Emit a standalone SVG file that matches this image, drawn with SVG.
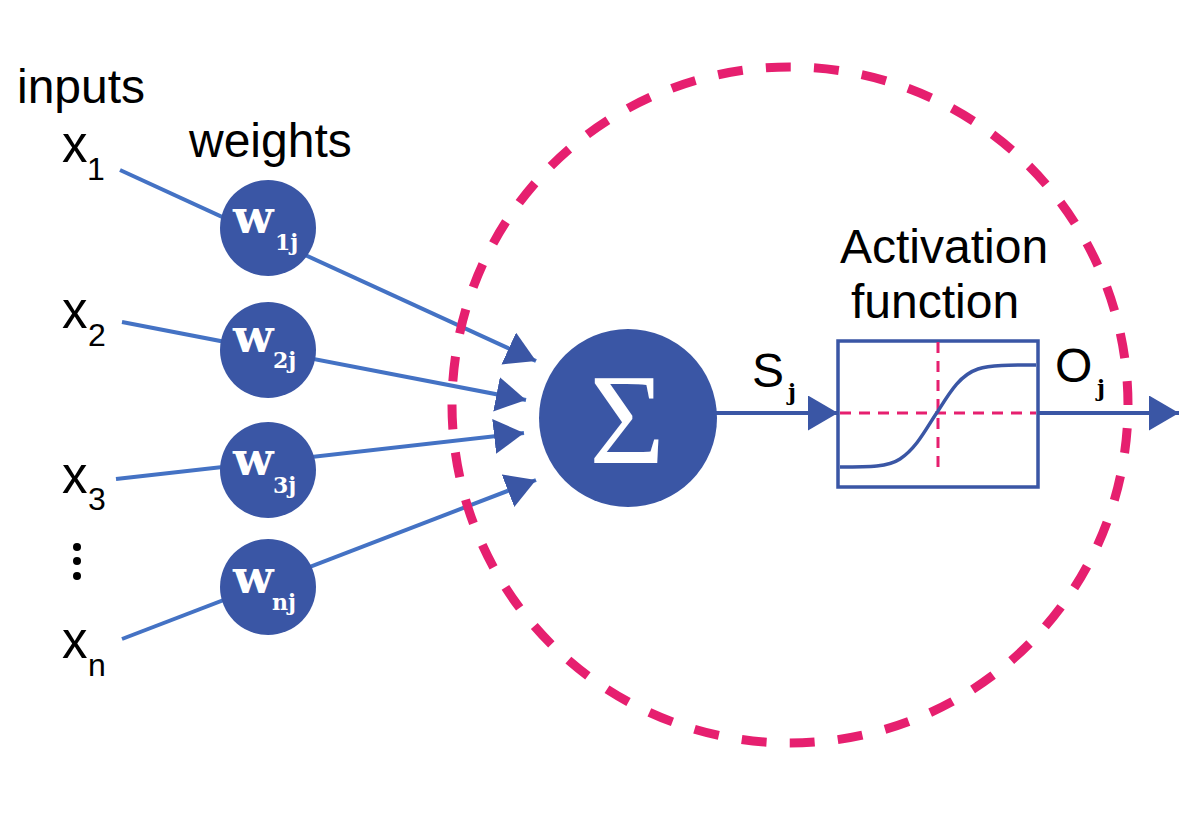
<svg xmlns="http://www.w3.org/2000/svg" width="1182" height="818" viewBox="0 0 1182 818">
<style>
.lbl{font-family:"Liberation Sans",Arial,sans-serif;fill:#000}
.big{font-size:48px}
.xx{font-size:51px}
.sub{font-size:32px}
.wt{font-family:"DejaVu Serif",serif;font-weight:bold;font-size:47px;fill:#fff}
.ws{font-family:"DejaVu Serif",serif;font-weight:bold;font-size:22px;fill:#fff}
.js{font-family:"DejaVu Serif",serif;font-weight:bold;font-size:22px;fill:#000}
.node{fill:#3A56A5}
.conn{stroke:#4472C4;stroke-width:4;fill:none;marker-end:url(#ah)}
.conn2{stroke:#3A56A5;stroke-width:4;fill:none;marker-end:url(#ah)}
.pink{stroke:#E61F6F;fill:none}
</style>
<defs>
<marker id="ah" markerUnits="userSpaceOnUse" markerWidth="32" markerHeight="36" refX="30" refY="17.5" orient="auto" viewBox="0 0 32 36">
<path d="M0,0 L30,17.5 L0,35 Z" fill="#3A56A5"/>
</marker>
</defs>
<rect width="1182" height="818" fill="#fff"/>

<g id="connectors">
<line class="conn" x1="120" y1="170" x2="536" y2="361"/>
<line class="conn" x1="122" y1="322" x2="526" y2="400"/>
<line class="conn" x1="116" y1="479" x2="524" y2="433"/>
<line class="conn" x1="122" y1="639" x2="536" y2="480"/>
<line class="conn2" x1="716" y1="413" x2="838" y2="413"/>
<line class="conn2" x1="1038" y1="413" x2="1179" y2="413"/>
</g>

<g id="labels">
<text class="lbl big" x="17" y="103">inputs</text>
<text class="lbl big" x="189" y="157">weights</text>
</g>

<g id="x1"><text class="lbl xx" x="62" y="162">x</text><text class="lbl sub" x="87" y="180">1</text></g>
<g id="x2"><text class="lbl xx" x="62" y="328">x</text><text class="lbl sub" x="88" y="346">2</text></g>
<g id="x3"><text class="lbl xx" x="62" y="493">x</text><text class="lbl sub" x="88" y="510">3</text></g>
<g id="dots"><circle cx="77" cy="547" r="4" fill="#000"/><circle cx="77" cy="561" r="4" fill="#000"/><circle cx="77" cy="576" r="4" fill="#000"/></g>
<g id="xn"><text class="lbl xx" x="62" y="658">x</text><text class="lbl sub" x="88" y="676">n</text></g>

<g id="w1j"><circle class="node" cx="268" cy="228" r="48"/><text class="wt" x="233" y="233">w</text><text class="ws" x="275" y="250">1j</text></g>
<g id="w2j"><circle class="node" cx="268" cy="350" r="48"/><text class="wt" x="233" y="352">w</text><text class="ws" x="273" y="368">2j</text></g>
<g id="w3j"><circle class="node" cx="268" cy="470" r="48"/><text class="wt" x="233" y="475">w</text><text class="ws" x="273" y="493">3j</text></g>
<g id="wnj"><circle class="node" cx="268" cy="587" r="48"/><text class="wt" x="233" y="593">w</text><text class="ws" x="272" y="610">nj</text></g>

<g id="sum"><circle class="node" cx="628" cy="418" r="89"/><text x="627" y="463" text-anchor="middle" style="font-family:'Liberation Serif',serif;font-size:130px;fill:#fff">Σ</text></g>

<g id="sj"><text class="lbl big" x="752" y="387">S</text><text class="js" x="788" y="400">j</text></g>

<g id="activation">
<text class="lbl big" x="840" y="263">Activation</text>
<text class="lbl big" x="851" y="318">function</text>
<rect x="838" y="341" width="200" height="146" fill="none" stroke="#3A56A5" stroke-width="3.5"/>
<line class="pink" x1="840" y1="413" x2="1036" y2="413" stroke-width="3" stroke-dasharray="11 8"/>
<line class="pink" x1="938" y1="342" x2="938" y2="474" stroke-width="3" stroke-dasharray="11 8"/>
<path d="M840,467 C870,467 888,467 900,459 C918,447 928,425 938,411 C950,392 960,375 978,369 C990,365 1010,365 1036,365" fill="none" stroke="#3A56A5" stroke-width="3.5"/>
</g>

<g id="oj"><text class="lbl big" x="1055" y="382">O</text><text class="js" x="1097" y="396">j</text></g>

<g id="neuron-boundary"><circle class="pink" cx="790" cy="405" r="338" stroke-width="9" stroke-dasharray="25 23.27" stroke-dashoffset="25"/></g>
</svg>
